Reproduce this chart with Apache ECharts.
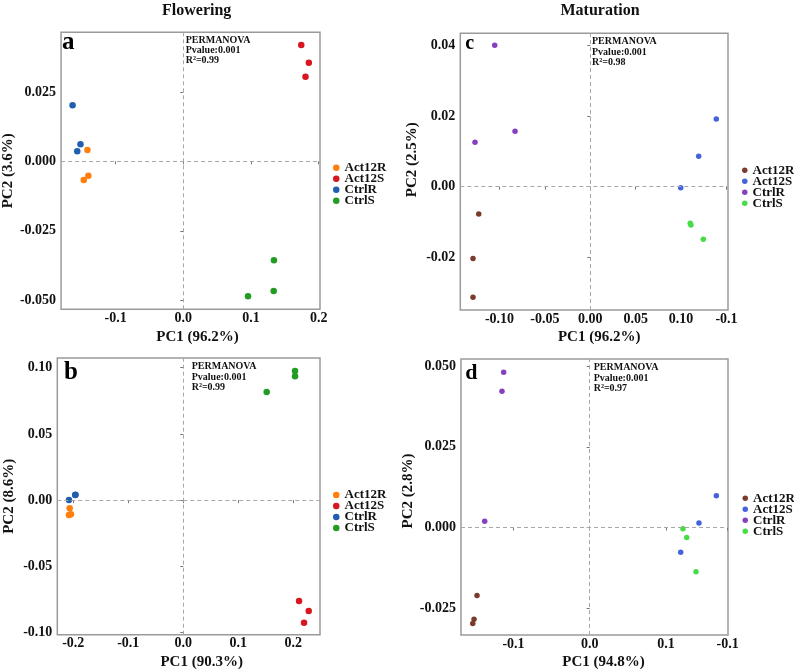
<!DOCTYPE html>
<html>
<head>
<meta charset="utf-8">
<script src="https://cdn.jsdelivr.net/npm/echarts@6/dist/echarts.min.js"></script>
<style>
html, body { margin: 0; padding: 0; background: #fff; }
#chart { width: 794px; height: 671px; }
</style>
</head>
<body>
<div id="chart"></div>
<script>
const groups = ['Act12R', 'Act12S', 'CtrlR', 'CtrlS']

// a: Flowering, 3.6%
const aAct12R = [[-0.1416, 0.0041], [-0.1402, -0.0052], [-0.1470, -0.0067]]
const aAct12S = [[0.1742, 0.0419], [0.1854, 0.0355], [0.1805, 0.0305]]
const aCtrlR = [[-0.1635, 0.0202], [-0.1518, 0.0062], [-0.1566, 0.0036]]
const aCtrlS = [[0.1339, -0.0356], [0.1335, -0.0467], [0.0956, -0.0486]]
const aXTicks = [-0.1, 0, 0.1, 0.2]
const aXLabels = ['-0.1', '0.0', '0.1', '0.2']
const aYTicks = [-0.05, -0.025, 0, 0.025]
const aYLabels = ['-0.050', '-0.025', '0.000', '0.025']

// b: Flowering, 8.6%
const bAct12R = [[-0.2065, -0.0060], [-0.2078, -0.0111], [-0.2042, -0.0106]]
const bAct12S = [[0.2104, -0.0760], [0.2280, -0.0836], [0.2195, -0.0924]]
const bCtrlR = [[-0.2078, 0.0002], [-0.1964, 0.0040], [-0.1960, 0.0042]]
const bCtrlS = [[0.2031, 0.0974], [0.2031, 0.0936], [0.1516, 0.0817]]
const bXTicks = [-0.2, -0.1, 0, 0.1, 0.2]
const bXLabels = ['-0.2', '-0.1', '0.0', '0.1', '0.2']
const bYTicks = [-0.1, -0.05, 0, 0.05, 0.1]
const bYLabels = ['-0.10', '-0.05', '0.00', '0.05', '0.10']

// c: Maturation, 2.5%
const cAct12R = [[-0.1229, -0.0078], [-0.1292, -0.0204], [-0.1292, -0.0314]]
const cAct12S = [[0.1388, 0.0192], [0.1194, 0.0086], [0.0996, -0.0003]]
const cCtrlR = [[-0.1053, 0.0401], [-0.0829, 0.0157], [-0.1270, 0.0126]]
const cCtrlS = [[0.1101, -0.0104], [0.1109, -0.0109], [0.1245, -0.0149]]
const cXTicks = [-0.1, -0.05, 0, 0.05, 0.1, 0.15]
const cXLabels = ['-0.10', '-0.05', '0.00', '0.05', '0.10', '-0.1']
const cYTicks = [-0.02, 0, 0.02, 0.04]
const cYLabels = ['-0.02', '0.00', '0.02', '0.04']

// d: Maturation, 2.8%
const dAct12R = [[-0.1479, -0.0211], [-0.1518, -0.0284], [-0.1535, -0.0297]]
const dAct12S = [[0.1662, 0.0098], [0.1434, 0.0014], [0.1194, -0.0077]]
const dCtrlR = [[-0.1129, 0.0481], [-0.1151, 0.0422], [-0.1378, 0.0019]]
const dCtrlS = [[0.1224, -0.0004], [0.1273, -0.0031], [0.1395, -0.0137]]
const dXTicks = [-0.1, 0, 0.1, 0.181]
const dXLabels = ['-0.1', '0.0', '0.1', '-0.1']
const dYTicks = [-0.025, 0, 0.025, 0.05]
const dYLabels = ['-0.025', '0.000', '0.025', '0.050']

const flowerColors = ['#ff7f0e', '#d7161f', '#1f5fae', '#229c22']
const matureColors = ['#7a3b2c', '#4363dc', '#8740bd', '#46dc46']

const font = 'Liberation Serif'

const panels = [
  {
    letter: 'a', letterSize: 25, letterPos: [62, 43],
    grid: { left: 57.3, top: 32.3, width: 262.7, height: 277 },
    x: [-0.1805, 0.2019], y: [-0.0533, 0.0465],
    xTicks: aXTicks, xLabels: aXLabels, yTicks: aYTicks, yLabels: aYLabels,
    xName: 'PC1 (96.2%)', yName: 'PC2 (3.6%)', xShift: 7, yShift: 0,
    data: [aAct12R, aAct12S, aCtrlR, aCtrlS], colors: flowerColors, size: 6.5,
    stat: ['PERMANOVA', 'Pvalue:0.001', 'R\u00b2=0.99'], statPos: [185.7, 34.8],
    legend: { left: 333, top: 161.2 }
  },
  {
    letter: 'b', letterSize: 25, letterPos: [64, 372.5],
    grid: { left: 57.3, top: 358, width: 262.7, height: 276.7 },
    x: [-0.229, 0.2485], y: [-0.1015, 0.1073],
    xTicks: bXTicks, xLabels: bXLabels, yTicks: bYTicks, yLabels: bYLabels,
    xName: 'PC1 (90.3%)', yName: 'PC2 (8.6%)', xShift: 13, yShift: 0,
    data: [bAct12R, bAct12S, bCtrlR, bCtrlS], colors: flowerColors, size: 6.5,
    stat: ['PERMANOVA', 'Pvalue:0.001', 'R\u00b2=0.99'], statPos: [191.7, 361.5],
    legend: { left: 333, top: 488.5 }
  },
  {
    letter: 'c', letterSize: 20, letterPos: [465.3, 44],
    grid: { left: 460.3, top: 33.3, width: 267.7, height: 276.7 },
    x: [-0.1432, 0.1517], y: [-0.035, 0.0435],
    xTicks: cXTicks, xLabels: cXLabels, yTicks: cYTicks, yLabels: cYLabels,
    xName: 'PC1 (96.2%)', yName: 'PC2 (2.5%)', xShift: 5, yShift: 12,
    data: [cAct12R, cAct12S, cCtrlR, cCtrlS], colors: matureColors, size: 5.5,
    stat: ['PERMANOVA', 'Pvalue:0.001', 'R\u00b2=0.98'], statPos: [592, 36.5],
    legend: { left: 742, top: 163.8 }
  },
  {
    letter: 'd', letterSize: 22, letterPos: [465.3, 373.4],
    grid: { left: 461, top: 359, width: 267, height: 276.3 },
    x: [-0.1689, 0.1815], y: [-0.0333, 0.0522],
    xTicks: dXTicks, xLabels: dXLabels, yTicks: dYTicks, yLabels: dYLabels,
    xName: 'PC1 (94.8%)', yName: 'PC2 (2.8%)', xShift: 9, yShift: 6,
    data: [dAct12R, dAct12S, dCtrlR, dCtrlS], colors: matureColors, size: 5.5,
    stat: ['PERMANOVA', 'Pvalue:0.001', 'R\u00b2=0.97'], statPos: [593.7, 362.5],
    legend: { left: 742.5, top: 491.8 }
  }
]

function labelOf(ticks, labels) {
  return function(v) {
    let best = 0
    ticks.forEach((t, i) => {
      if (Math.abs(t - v) < Math.abs(ticks[best] - v)) best = i
    })
    return labels[best]
  }
}

const labelStyle = { fontFamily: font, fontWeight: 'bold', fontSize: 14, color: '#111' }
const nameStyle = { fontFamily: font, fontWeight: 'bold', fontSize: 15, color: '#111' }

const grid = []
const xAxis = []
const yAxis = []
const series = []
const legend = []
const graphic = []

panels.forEach((p, i) => {
  grid.push(Object.assign({ show: true, borderColor: '#9a9a9a', borderWidth: 1.5, backgroundColor: '#fff' }, p.grid))

  xAxis.push({
    type: 'value', gridIndex: i, min: p.x[0], max: p.x[1],
    name: p.xName, nameLocation: 'middle', nameGap: 20,
    nameTextStyle: Object.assign({ padding: [0, 0, 0, p.xShift * 2] }, nameStyle),
    axisLine: { show: false },
    axisTick: { show: true, length: 3, customValues: p.xTicks, lineStyle: { color: '#777' } },
    axisLabel: Object.assign({ margin: 2, customValues: p.xTicks, formatter: labelOf(p.xTicks, p.xLabels) }, labelStyle),
    splitLine: { show: false }
  })

  yAxis.push({
    type: 'value', gridIndex: i, min: p.y[0], max: p.y[1],
    name: p.yName, nameLocation: 'middle', nameGap: 41,
    nameTextStyle: Object.assign({ padding: [0, 0, 0, p.yShift * 2] }, nameStyle),
    axisLine: { show: false },
    axisTick: { show: true, length: 3, customValues: p.yTicks, lineStyle: { color: '#777' } },
    axisLabel: Object.assign({ margin: 5, customValues: p.yTicks, formatter: labelOf(p.yTicks, p.yLabels) }, labelStyle),
    splitLine: { show: false }
  })

  groups.forEach((g, k) => {
    const s = {
      name: g,
      type: 'scatter',
      xAxisIndex: i,
      yAxisIndex: i,
      symbolSize: p.size,
      itemStyle: { color: p.colors[k], opacity: 1 },
      data: p.data[k]
    }
    // 零线 (dashed x = 0 and y = 0)
    if (k === 0) {
      s.markLine = {
        silent: true,
        symbol: 'none',
        animation: false,
        label: { show: false },
        lineStyle: { type: [4, 3], color: '#a8a8a8', width: 1 },
        data: [{ xAxis: 0 }, { yAxis: 0 }]
      }
    }
    series.push(s)
  })

  legend.push({
    orient: 'vertical',
    left: p.legend.left,
    top: p.legend.top,
    icon: 'circle',
    itemWidth: p.size,
    itemHeight: p.size,
    itemGap: -2,
    selectedMode: false,
    padding: 0,
    textStyle: { fontFamily: font, fontWeight: 'bold', fontSize: 13, color: '#111', lineHeight: 11 },
    data: groups.map((g, k) => ({ name: g, itemStyle: { color: p.colors[k] } }))
  })

  graphic.push({
    type: 'text', left: p.letterPos[0], top: p.letterPos[1] - p.letterSize / 2,
    style: { text: p.letter, font: 'bold ' + p.letterSize + 'px "' + font + '"', fill: '#000' }
  })
  graphic.push({
    type: 'text', left: p.statPos[0], top: p.statPos[1],
    style: { text: p.stat.join('\n'), font: 'bold 10px "' + font + '"', lineHeight: 10.3, fill: '#111' }
  })
})

const chart = echarts.init(document.getElementById('chart'))
chart.setOption({
  animation: false,
  title: [
    { text: 'Flowering', left: 191.7, top: -2, textAlign: 'center', textStyle: { fontFamily: font, fontWeight: 'bold', fontSize: 16, color: '#111' } },
    { text: 'Maturation', left: 595, top: -2, textAlign: 'center', textStyle: { fontFamily: font, fontWeight: 'bold', fontSize: 16, color: '#111' } }
  ],
  grid: grid,
  xAxis: xAxis,
  yAxis: yAxis,
  legend: legend,
  graphic: graphic,
  series: series
})
</script>
</body>
</html>
